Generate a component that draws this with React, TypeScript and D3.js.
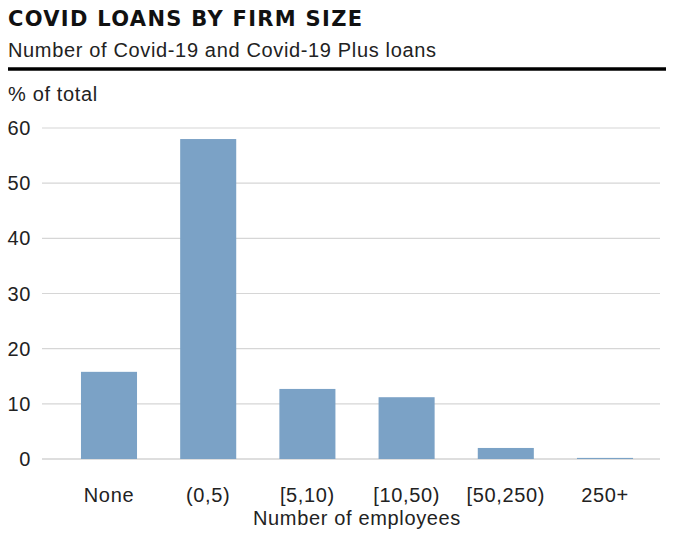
import React from "react";
import * as d3 from "d3";

const categories = ["None", "(0,5)", "[5,10)", "[10,50)", "[50,250)", "250+"];
const values = [15.8, 58.0, 12.7, 11.2, 2.0, 0.2];
const yTicks = [0, 10, 20, 30, 40, 50, 60];

const W = 674;
const H = 534;
const FONT = "'Liberation Sans', Arial, sans-serif";
const FS = 20;
const LS = 0.65;

export default function App() {
  const x = d3
    .scaleBand<string>()
    .domain(categories)
    .range([59.4, 654.6])
    .paddingInner(0.435)
    .paddingOuter(0.2175);
  const y = d3.scaleLinear().domain([0, 60]).range([459, 128]);

  return (
    <div style={{ position: "absolute", left: 0, top: 0 }}>
      <svg width={W} height={H} style={{ display: "block", background: "#fff" }} fontFamily={FONT}>
        <text
          x={8}
          y={26}
          fontSize={21}
          fontWeight="bold"
          fill="#111"
          letterSpacing={1.3}
          fontFamily="'DejaVu Sans', sans-serif"
        >
          COVID LOANS BY FIRM SIZE
        </text>
        <text x={8} y={57} fontSize={FS} fill="#222" letterSpacing={LS}>
          Number of Covid-19 and Covid-19 Plus loans
        </text>
        <line x1={8} x2={666} y1={69} y2={69} stroke="#000" strokeWidth={3.5} />
        <text x={8} y={101} fontSize={FS} fill="#222" letterSpacing={LS}>
          % of total
        </text>
        {yTicks.map((t) => (
          <g key={t}>
            <line x1={42} x2={660} y1={y(t)} y2={y(t)} stroke={t === 0 ? "#bdbdbd" : "#d6d6d6"} strokeWidth={1.2} />
            <text x={31} y={y(t) + 7} fontSize={FS} textAnchor="end" fill="#222" letterSpacing={LS}>
              {t}
            </text>
          </g>
        ))}
        {categories.map((c, i) => (
          <rect
            key={c}
            x={x(c)}
            width={x.bandwidth()}
            y={y(values[i])}
            height={y(0) - y(values[i])}
            fill="#7ba2c6"
          />
        ))}
        {categories.map((c) => (
          <text
            key={c}
            x={(x(c) as number) + x.bandwidth() / 2}
            y={502}
            fontSize={FS}
            textAnchor="middle"
            fill="#222"
            letterSpacing={LS}
          >
            {c}
          </text>
        ))}
        <text x={357} y={525} fontSize={FS} textAnchor="middle" fill="#222" letterSpacing={LS}>
          Number of employees
        </text>
      </svg>
    </div>
  );
}
